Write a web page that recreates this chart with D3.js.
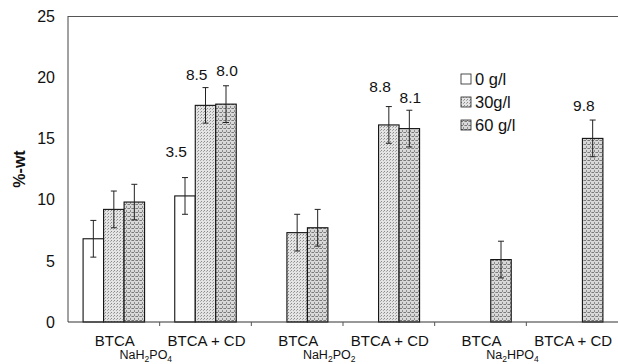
<!DOCTYPE html>
<html>
<head>
<meta charset="utf-8">
<script src="https://cdn.jsdelivr.net/npm/d3@7"></script>
<style>
  body { margin: 0; background: #fff; }
  text { font-family: "Liberation Sans", Arial, sans-serif; fill: #111; }
</style>
</head>
<body>
<div id="chart"></div>
<script>
// categories (6 groups) and the three concentrations
const groups = ["a", "b", "c", "d", "e", "f"];
const groupLabels = ["BTCA", "BTCA + CD", "BTCA", "BTCA + CD", "BTCA", "BTCA + CD"];
const catalysts = [
  { group: "a", parts: [["NaH", 0], ["2", 1], ["PO", 0], ["4", 1]] },
  { group: "c", parts: [["NaH", 0], ["2", 1], ["PO", 0], ["2", 1]] },
  { group: "e", parts: [["Na", 0], ["2", 1], ["HPO", 0], ["4", 1]] },
];
const series = ["0 g/l", "30g/l", "60 g/l"];

// %-wt values, null = no bar
const values0 = [6.8, 10.3, null, null, null, null];
const values30 = [9.2, 17.7, 7.3, 16.1, null, null];
const values60 = [9.8, 17.8, 7.7, 15.8, 5.1, 15.0];
const err0 = [1.5, 1.5, null, null, null, null];
const err30 = [1.5, 1.45, 1.5, 1.5, null, null];
const err60 = [1.45, 1.5, 1.5, 1.5, 1.5, 1.5];

// numbers written above bars: [group, series index, text, height in %-wt]
const notes = [
  ["b", 0, "3.5", 13.5],
  ["b", 1, "8.5", 19.8],
  ["b", 2, "8.0", 20.1],
  ["d", 1, "8.8", 18.8],
  ["d", 2, "8.1", 17.9],
  ["f", 2, "9.8", 17.2],
];

const yTicks = [0, 5, 10, 15, 20, 25];

const width = 618, height = 364;
const margin = { top: 16, right: 0, bottom: 42, left: 68 };

const svg = d3.select("#chart").append("svg")
  .attr("width", width)
  .attr("height", height);

const defs = svg.append("defs");
// dotted screen textures for the grey bars
const p30 = defs.append("pattern").attr("id", "p30")
  .attr("width", 3).attr("height", 3).attr("patternUnits", "userSpaceOnUse");
p30.append("rect").attr("width", 3).attr("height", 3).attr("fill", "#e4e4e4");
p30.append("rect").attr("width", 1).attr("height", 1).attr("fill", "#8a8a8a");
p30.append("rect").attr("x", 2).attr("y", 1).attr("width", 1).attr("height", 1).attr("fill", "#a8a8a8");

const p60 = defs.append("pattern").attr("id", "p60")
  .attr("width", 4).attr("height", 4).attr("patternUnits", "userSpaceOnUse");
p60.append("rect").attr("width", 4).attr("height", 4).attr("fill", "#d8d8d8");
p60.append("rect").attr("width", 2).attr("height", 1).attr("fill", "#7a7a7a");
p60.append("rect").attr("x", 2).attr("y", 2).attr("width", 1).attr("height", 2).attr("fill", "#8c8c8c");
p60.append("rect").attr("x", 3).attr("y", 0).attr("width", 1).attr("height", 1).attr("fill", "#a0a0a0");

const fills = ["#fff", "url(#p30)", "url(#p60)"];

const x0 = d3.scaleBand()
  .domain(groups)
  .range([margin.left, width - margin.right]);

const barW = 20.5;
const x1 = d3.scaleBand()
  .domain(d3.range(series.length))
  .range([x0.bandwidth() / 2 - barW * 1.5, x0.bandwidth() / 2 + barW * 1.5]);

const y = d3.scaleLinear()
  .domain([0, 25])
  .range([height - margin.bottom, margin.top]);

// frame: left axis, top line, bottom axis
svg.append("line")
  .attr("x1", margin.left).attr("x2", margin.left)
  .attr("y1", y(25)).attr("y2", y(0))
  .attr("stroke", "#444").attr("stroke-width", 1);
svg.append("line")
  .attr("x1", margin.left).attr("x2", width)
  .attr("y1", y(25) + 0.5).attr("y2", y(25) + 0.5)
  .attr("stroke", "#555").attr("stroke-width", 1.2);

// y tick labels
svg.append("g")
  .selectAll("text")
  .data(yTicks)
  .join("text")
  .attr("x", 55)
  .attr("y", d => y(d))
  .attr("dy", "0.36em")
  .attr("text-anchor", "end")
  .attr("font-size", 16)
  .text(d => d);

svg.append("text")
  .attr("transform", `translate(25,${(y(0) + y(25)) / 2}) rotate(-90)`)
  .attr("text-anchor", "middle")
  .attr("font-size", 16)
  .attr("font-weight", "bold")
  .text("%-wt");

// bars
const allValues = [values0, values30, values60];
const allErr = [err0, err30, err60];
const rows = [];
groups.forEach((g, gi) => {
  series.forEach((s, si) => {
    const v = allValues[si][gi];
    if (v != null) rows.push({ g, si, v, e: allErr[si][gi] });
  });
});

const bars = svg.append("g");
bars.selectAll("rect")
  .data(rows)
  .join("rect")
  .attr("x", d => x0(d.g) + x1(d.si))
  .attr("y", d => y(d.v))
  .attr("width", x1.bandwidth())
  .attr("height", d => y(0) - y(d.v))
  .attr("fill", d => fills[d.si])
  .attr("stroke", "#111")
  .attr("stroke-width", 1.1);

// error bars
const eb = svg.append("g").attr("stroke", "#222").attr("stroke-width", 1);
const cx = d => x0(d.g) + x1(d.si) + x1.bandwidth() / 2;
eb.selectAll("line.v").data(rows).join("line").attr("class", "v")
  .attr("x1", cx).attr("x2", cx)
  .attr("y1", d => y(d.v + d.e)).attr("y2", d => y(d.v - d.e));
eb.selectAll("line.t").data(rows).join("line").attr("class", "t")
  .attr("x1", d => cx(d) - 3).attr("x2", d => cx(d) + 3)
  .attr("y1", d => y(d.v + d.e)).attr("y2", d => y(d.v + d.e));
eb.selectAll("line.b").data(rows).join("line").attr("class", "b")
  .attr("x1", d => cx(d) - 3).attr("x2", d => cx(d) + 3)
  .attr("y1", d => y(d.v - d.e)).attr("y2", d => y(d.v - d.e));

// bottom axis line and separators between groups
svg.append("line")
  .attr("x1", margin.left).attr("x2", width)
  .attr("y1", y(0)).attr("y2", y(0))
  .attr("stroke", "#333").attr("stroke-width", 1.2);
svg.append("g")
  .selectAll("line")
  .data(groups.slice(1))
  .join("line")
  .attr("x1", d => x0(d)).attr("x2", d => x0(d))
  .attr("y1", y(0)).attr("y2", y(0) + 4)
  .attr("stroke", "#555");

// value notes: a note with a neighbour to its right sits left of the bar centre
const hasRight = d => notes.some(n => n[0] === d[0] && n[1] > d[1]);
const alone = d => notes.filter(n => n[0] === d[0]).length === 1;
const noteX = d => x0(d[0]) + x1(d[1]) + x1.bandwidth() / 2;
svg.append("g")
  .selectAll("text")
  .data(notes)
  .join("text")
  .attr("x", d => hasRight(d) || alone(d) ? noteX(d) + 2 : noteX(d) + 1)
  .attr("y", d => y(d[3]))
  .attr("text-anchor", d => hasRight(d) || alone(d) ? "end" : "middle")
  .attr("font-size", 15.5)
  .text(d => d[2]);

// x labels
svg.append("g")
  .selectAll("text")
  .data(groups)
  .join("text")
  .attr("x", d => x0(d) + x0.bandwidth() / 2 + 1)
  .attr("y", 346)
  .attr("text-anchor", "middle")
  .attr("font-size", 15)
  .text((d, i) => groupLabels[i]);

const cat = svg.append("g")
  .selectAll("text")
  .data(catalysts)
  .join("text")
  .attr("x", d => x0(d.group) + x0.bandwidth() / 2 + 32)
  .attr("y", 359)
  .attr("text-anchor", "middle")
  .attr("font-size", 12.5);
cat.selectAll("tspan")
  .data(d => d.parts)
  .join("tspan")
  .attr("font-size", p => p[1] ? 8.5 : 12.5)
  .attr("dy", (p, i, nodes) => {
    const prev = i > 0 ? d3.select(nodes[i - 1]).datum()[1] : 0;
    return (p[1] - prev) * 3;
  })
  .text(p => p[0]);

// legend
const legend = svg.append("g").attr("transform", "translate(461,79)");
const li = legend.selectAll("g")
  .data(series)
  .join("g")
  .attr("transform", (d, i) => `translate(0,${i * 23})`);
li.append("rect")
  .attr("y", -5)
  .attr("width", 10).attr("height", 10)
  .attr("fill", (d, i) => fills[i])
  .attr("stroke", "#222")
  .attr("stroke-width", 0.8);
li.append("text")
  .attr("x", 14)
  .attr("dy", "0.36em")
  .attr("font-size", 16.5)
  .text(d => d);
</script>
</body>
</html>
